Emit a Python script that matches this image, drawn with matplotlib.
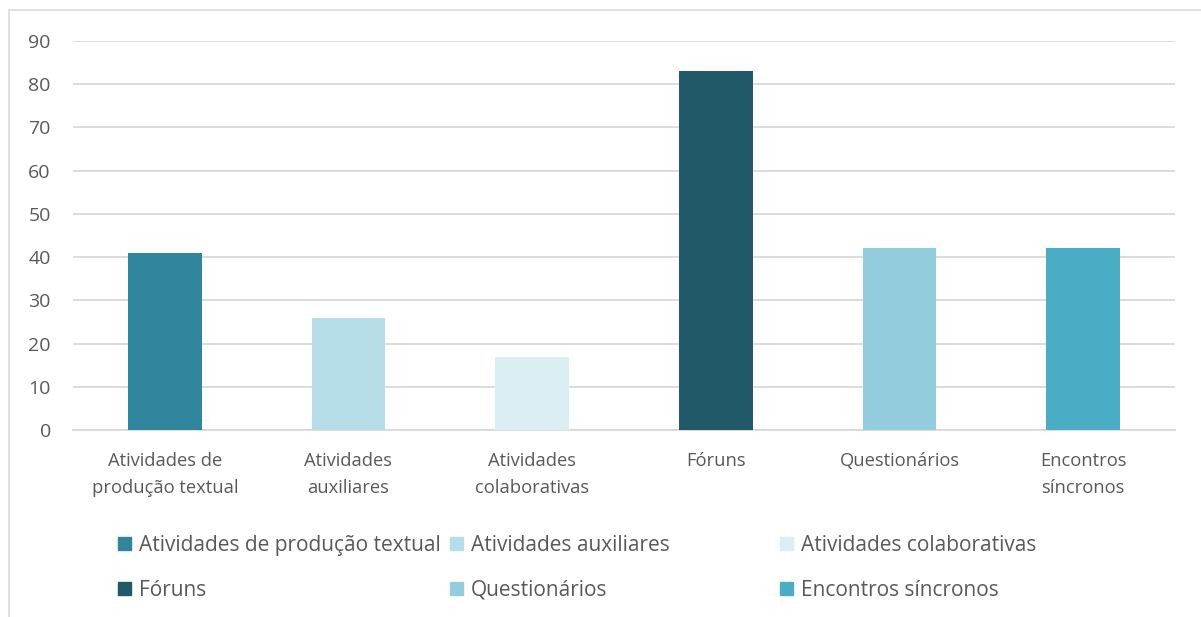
import matplotlib.pyplot as plt
from matplotlib.patches import Patch, Rectangle

# Data
categories = ["Atividades de\nprodução textual", "Atividades\nauxiliares", "Atividades\ncolaborativas",
              "Fóruns", "Questionários", "Encontros\nsíncronos"]
legend_labels = ["Atividades de produção textual", "Atividades auxiliares", "Atividades colaborativas",
                 "Fóruns", "Questionários", "Encontros síncronos"]
values = [41, 26, 17, 83, 42, 42]
colors = ["#31859C", "#B7DEE8", "#DAEEF3", "#215968", "#93CDDD", "#4BACC6"]
yticks = [0, 10, 20, 30, 40, 50, 60, 70, 80, 90]

plt.rcParams["font.family"] = ["Open Sans", "DejaVu Sans"]
text_color = "#595959"
grid_color = "#D9D9D9"

fig = plt.figure(figsize=(12.01, 6.17), dpi=100)
ax = fig.add_axes([73 / 1201, 1 - 430 / 617, (1175 - 73) / 1201, (430 - 41) / 617])

x = range(len(values))
ax.bar(x, values, width=0.4, color=colors, zorder=3)

ax.set_xlim(-0.5, len(values) - 0.5)
ax.set_ylim(0, 90)
ax.set_yticks(yticks)
ax.set_xticks(list(x))
ax.set_xticklabels(categories, linespacing=1.6)
ax.tick_params(axis="both", length=0, colors=text_color)
ax.tick_params(axis="x", pad=16, labelsize=13.2)
ax.tick_params(axis="y", pad=16, labelsize=14)
ax.grid(axis="y", color=grid_color, linewidth=1.3, zorder=0)
for s in ["top", "right", "left"]:
    ax.spines[s].set_visible(False)
ax.spines["bottom"].set_color(grid_color)
ax.spines["bottom"].set_linewidth(1.3)

# outer chart border
fig.patches.append(Rectangle((9 / 1201, -0.05), 1.2, 1 - 10 / 617 + 0.05, transform=fig.transFigure,
                             fill=False, edgecolor=grid_color, linewidth=1.2))

# legend: three columns, placed like the Excel layout
col_x = [118 / 1201, 450 / 1201, 780 / 1201]
for c in range(3):
    handles = [Patch(color=colors[c]), Patch(color=colors[c + 3])]
    labels = [legend_labels[c], legend_labels[c + 3]]
    leg = fig.legend(handles, labels, loc="upper left", bbox_to_anchor=(col_x[c], 1 - 535 / 617),
                     frameon=False, fontsize=15, handlelength=0.62, handleheight=0.62,
                     handletextpad=0.4, labelspacing=1.15, borderpad=0, borderaxespad=0)
    for t in leg.get_texts():
        t.set_color(text_color)

fig.savefig("out.png", dpi=100)
